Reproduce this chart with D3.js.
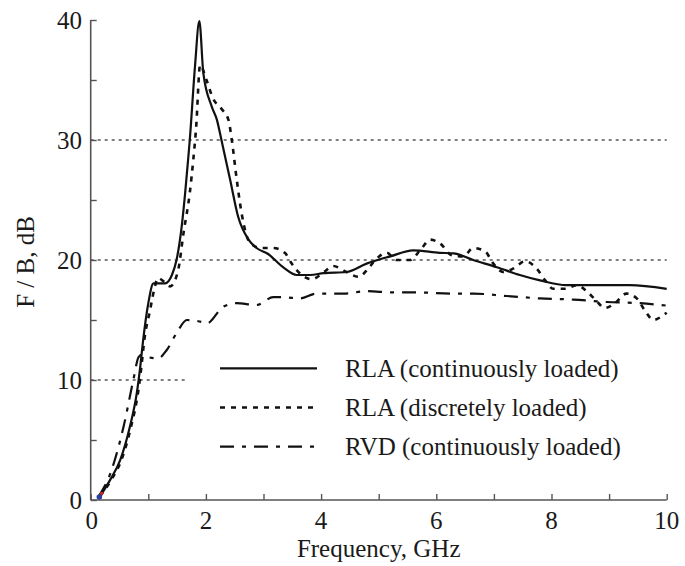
<!DOCTYPE html>
<html><head><meta charset="utf-8">
<script src="https://cdn.jsdelivr.net/npm/d3@7/dist/d3.min.js"></script>
<style>html,body{margin:0;padding:0;background:#fff;} svg{display:block;}</style>
</head><body>
<svg id="chart" width="685" height="566"></svg>
<script>
// ---- data ----
const solidX = [0.16,0.34,0.51,0.68,0.80,0.86,0.91,1.0,1.09,1.29,1.41,1.49,1.58,1.64,1.69,1.72,1.81,1.886,1.955,2.1,2.19,2.27,2.42,2.56,2.74,2.88,3.08,3.34,3.58,3.81,4.04,4.44,4.79,5.2,5.6,6.06,6.3,6.64,7.05,7.45,7.8,8.26,8.84,9.36,10];
const solidY = [0.3,1.7,3.3,6.1,8.9,11.1,13.3,16.4,18.05,18.05,18.75,20,22.8,25.6,28.3,30,36.1,39.9,35.6,32.8,31.7,30,26.7,23.6,21.7,21,20.5,19.4,18.75,18.75,18.9,19.0,19.7,20.3,20.8,20.6,20.55,20,19.4,18.75,18.3,17.9,17.9,17.9,17.6];

const dottedX = [0.16,0.36,0.53,0.70,0.82,0.88,0.93,1.03,1.1,1.17,1.27,1.38,1.52,1.61,1.72,1.78,1.83,1.9,2.01,2.12,2.27,2.39,2.45,2.53,2.62,2.77,2.95,3.17,3.37,3.49,3.65,3.84,4.05,4.21,4.44,4.65,4.82,4.94,5.14,5.31,5.54,5.75,5.89,6.06,6.27,6.47,6.64,6.85,6.99,7.16,7.34,7.54,7.74,7.89,8.03,8.23,8.44,8.61,8.76,8.93,9.1,9.3,9.48,9.62,9.77,9.94,10];
const dottedY = [0.3,1.7,3.3,6.1,8.9,11.1,13.3,15.8,17.5,18.5,18.2,17.8,19.2,22.2,25.6,28.3,31,36.25,35,33.5,32.6,31.7,30,26.9,23.9,21.4,21,21,20.6,19.7,18.8,18.4,19.0,19.5,19.0,18.6,19.3,20,20.6,20,20,21,21.7,21.4,20.4,20.3,21,20.7,19.7,19,19.3,19.9,19.3,18.3,17.6,17.6,17.9,17.4,16.7,16,16.4,17.2,16.8,15.8,15.0,15.4,15.6];

const rvdX = [0.14,0.34,0.57,0.74,0.83,0.88,1.0,1.17,1.32,1.49,1.67,1.95,2.01,2.3,2.53,2.88,3.17,3.34,3.63,3.92,4.39,4.79,5.25,5.66,6.24,6.64,7.22,7.8,8.38,8.96,9.54,10];
const rvdY = [0.3,2.2,6.1,10,11.9,12.1,11.9,11.8,12.5,13.9,15,14.8,14.7,16.1,16.4,16.25,16.9,16.9,16.8,17.2,17.2,17.4,17.3,17.3,17.2,17.2,17.0,16.8,16.7,16.5,16.4,16.2];

const xTicks = [0,2,4,6,8,10];
const yTicks = [0,10,20,30,40];
const gridValues = [10,20,30];
const legendLabels = ["RLA (continuously loaded)","RLA (discretely loaded)","RVD (continuously loaded)"];

// ---- layout ----
const svg = d3.select("#chart");
const x = d3.scaleLinear().domain([0,10]).range([90.7,666.7]);
const y = d3.scaleLinear().domain([0,40]).range([500,20]);
const font = "'Liberation Serif','Times New Roman',serif";
const axisColor = "#555";
const textColor = "#1a1a1a";

// grid lines
svg.append("g").selectAll("line").data(gridValues).join("line")
  .attr("x1", x(0)).attr("x2", x(10))
  .attr("y1", d=>y(d)).attr("y2", d=>y(d))
  .attr("stroke","#000").attr("stroke-width",1.1).attr("stroke-dasharray","3,4");

// legend background (covers part of the 10 dB grid line)
svg.append("rect").attr("x",187).attr("y",345).attr("width",480).attr("height",125).attr("fill","#fff");

// axes
const xAxis = d3.axisBottom(x).tickValues(d3.range(0,11,1)).tickSize(-6).tickFormat("");
const yAxis = d3.axisLeft(y).tickValues(d3.range(0,41,5)).tickSize(-6).tickFormat("");
const gx = svg.append("g").attr("transform",`translate(0,${y(0)})`).call(xAxis);
const gy = svg.append("g").attr("transform",`translate(${x(0)},0)`).call(yAxis);
[gx,gy].forEach(g=>{
  g.select(".domain").attr("stroke",axisColor).attr("stroke-width",1.6);
  g.selectAll(".tick line").attr("stroke",axisColor).attr("stroke-width",1.4);
});
gx.select(".domain").attr("d",`M${x(0)},0H${x(10)}`);
gy.select(".domain").attr("d",`M0,${y(0)}V${y(40)}`);

// tick labels
svg.append("g").selectAll("text").data(xTicks).join("text")
  .attr("x", d=>x(d)+ (d===0?1:0)).attr("y", y(0)+28.5)
  .attr("text-anchor","middle").attr("font-family",font).attr("font-size",25).attr("fill",textColor)
  .text(d=>d);
svg.append("g").selectAll("text").data(yTicks).join("text")
  .attr("x", 82).attr("y", d=>y(d)+8.5)
  .attr("text-anchor","end").attr("font-family",font).attr("font-size",25).attr("fill",textColor)
  .text(d=>d);

// axis titles
svg.append("text").attr("x",(x(0)+x(10))/2 + 0).attr("y",557)
  .attr("text-anchor","middle").attr("font-family",font).attr("font-size",25).attr("fill",textColor)
  .text("Frequency, GHz");
svg.append("text").attr("transform","translate(34,262) rotate(-90)")
  .attr("text-anchor","middle").attr("font-family",font).attr("font-size",25).attr("fill",textColor)
  .text("F / B, dB");

// curves
const line = d3.line().x(d=>x(d[0])).y(d=>y(d[1])).curve(d3.curveMonotoneX);
const series = [
  {xs:rvdX, ys:rvdY, dash:"14,8,4,8", w:2.2},
  {xs:dottedX, ys:dottedY, dash:"5,6", w:2.6},
  {xs:solidX, ys:solidY, dash:null, w:2.2}
];
series.forEach(s=>{
  svg.append("path").datum(d3.zip(s.xs,s.ys)).attr("d",line)
    .attr("fill","none").attr("stroke","#111").attr("stroke-width",s.w)
    .attr("stroke-dasharray",s.dash).attr("stroke-linejoin","round");
});

// small coloured markers at the origin of the curves
svg.append("circle").attr("cx",x(0.15)).attr("cy",y(0.25)).attr("r",2.8).attr("fill","#2b3f9e");
svg.append("circle").attr("cx",x(0.19)).attr("cy",y(0.55)).attr("r",1.6).attr("fill","#d62a2a");

// legend
const legendStyles = [{dash:null,w:2.2},{dash:"5,6",w:2.6},{dash:"14,8,4,8",w:2.2}];
const lg = svg.append("g");
legendLabels.forEach((lab,i)=>{
  const yy = 368.3 + i*39.2;
  lg.append("line").attr("x1",220).attr("x2",317).attr("y1",yy).attr("y2",yy)
    .attr("stroke","#111").attr("stroke-width",legendStyles[i].w).attr("stroke-dasharray",legendStyles[i].dash);
  lg.append("text").attr("x",345).attr("y",yy+8.7).attr("font-family",font).attr("font-size",25).attr("fill",textColor).text(lab);
});
</script>
</body></html>
